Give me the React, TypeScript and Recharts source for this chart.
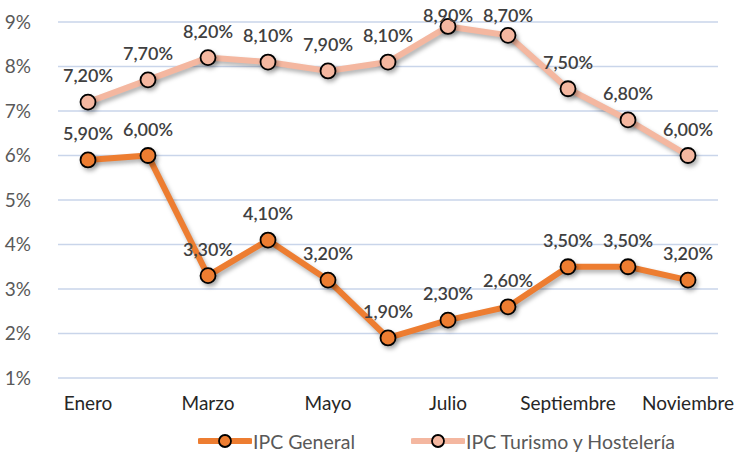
import React from "react";
import {
  CartesianGrid,
  LabelList,
  Legend,
  Line,
  LineChart,
  XAxis,
  YAxis,
} from "recharts";

const months = [
  "Enero",
  "Febrero",
  "Marzo",
  "Abril",
  "Mayo",
  "Junio",
  "Julio",
  "Agosto",
  "Septiembre",
  "Octubre",
  "Noviembre",
];
const ipcGeneral = [5.9, 6.0, 3.3, 4.1, 3.2, 1.9, 2.3, 2.6, 3.5, 3.5, 3.2];
const ipcTurismo = [7.2, 7.7, 8.2, 8.1, 7.9, 8.1, 8.9, 8.7, 7.5, 6.8, 6.0];
const yTicks = [1, 2, 3, 4, 5, 6, 7, 8, 9];

const ORANGE = "#ED7D31";
const PINK = "#F4B7A0";
const FONT = "Lato, 'Liberation Sans', sans-serif";

const data = months.map((m, i) => ({
  x: i + 0.5,
  month: m,
  general: ipcGeneral[i],
  turismo: ipcTurismo[i],
}));

const boundaryTicks = months.map((_, i) => i).concat(months.length);
const labelTicks = months.map((_, i) => i + 0.5).filter((_, i) => i % 2 === 0);

const fmt = (v: number) => v.toFixed(2).replace(".", ",") + "%";

function PointLabel(props: any) {
  const { x, y, value } = props;
  const cy = Math.max(y - 27, 15);
  return (
    <text
      x={x}
      y={cy}
      textAnchor="middle"
      dominantBaseline="central"
      fontSize={18}
      fontWeight={600}
      fill="#404040"
      fontFamily={FONT}
    >
      {fmt(value)}
    </text>
  );
}

function LegendItem({ color, label }: { color: string; label: string }) {
  return (
    <div style={{ display: "flex", alignItems: "center" }}>
      <svg width={54} height={16}>
        <line x1={2} y1={8} x2={52} y2={8} stroke={color} strokeWidth={6} strokeLinecap="round" />
        <circle cx={27} cy={8} r={6} fill={color} stroke="#000" strokeWidth={1.8} />
      </svg>
      <span style={{ fontSize: 19.5, color: "#595959", fontFamily: FONT, marginLeft: 1 }}>{label}</span>
    </div>
  );
}

function LegendContent() {
  return (
    <div style={{ display: "flex", height: 28, alignItems: "center", paddingLeft: 198 }}>
      <div style={{ width: 213 }}>
        <LegendItem color={ORANGE} label="IPC General" />
      </div>
      <LegendItem color={PINK} label="IPC Turismo y Hostelería" />
    </div>
  );
}

export default function App() {
  return (
    <div style={{ position: "fixed", left: 0, top: 0, background: "#fff" }}>
      <style>{`
        .recharts-line-curve, .recharts-line-dots { filter: drop-shadow(2px 3px 2px rgba(0,0,0,0.3)); }
      `}</style>
      <LineChart
        width={737}
        height={455}
        data={data}
        margin={{ top: 22, right: 19, left: 0, bottom: 0 }}
      >
        <CartesianGrid
          xAxisId="grid"
          vertical={false}
          stroke="#C9D5EA"
          strokeWidth={1.3}
        />
        <XAxis
          xAxisId="grid"
          dataKey="x"
          type="number"
          domain={[0, months.length]}
          ticks={boundaryTicks}
          tick={false}
          height={0}
          axisLine={{ stroke: "#D9D9D9", strokeWidth: 2 }}
          tickLine={{ stroke: "#D9D9D9", strokeWidth: 2 }}
          tickSize={7}
        />
        <XAxis
          xAxisId="labels"
          dataKey="x"
          type="number"
          domain={[0, months.length]}
          ticks={labelTicks}
          tickFormatter={(v: number) => months[Math.floor(v)]}
          axisLine={false}
          tickLine={false}
          height={49}
          tickMargin={13}
          interval={0}
          tick={{ fontSize: 19, fill: "#262626", fontFamily: FONT }}
        />
        <YAxis
          domain={[1, 9]}
          ticks={yTicks}
          tickFormatter={(v: number) => `${v}%`}
          axisLine={false}
          tickLine={false}
          width={58}
          tickMargin={21}
          tick={{ fontSize: 19, fill: "#595959", fontFamily: FONT }}
        />
        <Legend verticalAlign="bottom" content={<LegendContent />} />
        <Line
          xAxisId="grid"
          dataKey="turismo"
          stroke={PINK}
          strokeWidth={6}
          type="linear"
          dot={{ r: 7.5, fill: PINK, stroke: "#000", strokeWidth: 1.8 }}
          activeDot={false}
          isAnimationActive={false}
        >
          <LabelList dataKey="turismo" content={<PointLabel />} />
        </Line>
        <Line
          xAxisId="grid"
          dataKey="general"
          stroke={ORANGE}
          strokeWidth={6}
          type="linear"
          dot={{ r: 7.5, fill: ORANGE, stroke: "#000", strokeWidth: 1.8 }}
          activeDot={false}
          isAnimationActive={false}
        >
          <LabelList dataKey="general" content={<PointLabel />} />
        </Line>
      </LineChart>
    </div>
  );
}
